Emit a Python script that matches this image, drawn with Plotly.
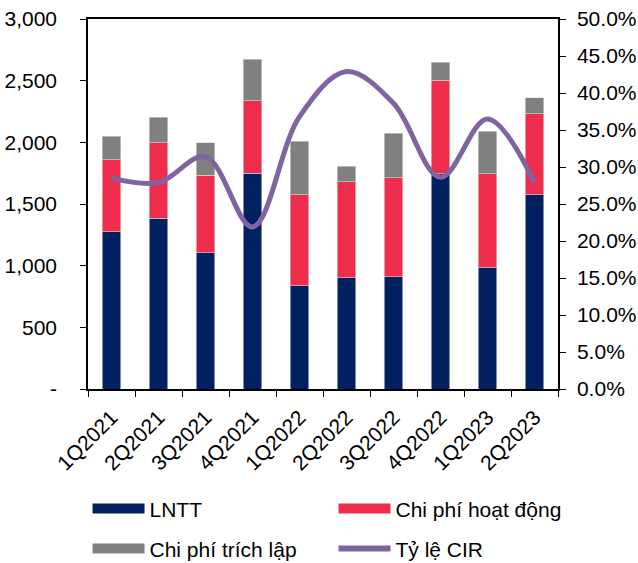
import plotly.graph_objects as go

quarters = ["1Q2021", "2Q2021", "3Q2021", "4Q2021", "1Q2022",
            "2Q2022", "3Q2022", "4Q2022", "1Q2023", "2Q2023"]
lntt = [1274, 1383, 1104, 1750, 836, 904, 912, 1745, 982, 1574]
chi_phi_hoat_dong = [584, 613, 628, 587, 738, 776, 800, 758, 763, 658]
chi_phi_trich_lap = [193, 206, 264, 338, 434, 127, 360, 148, 344, 130]
ty_le_cir = [0.285, 0.279, 0.314, 0.219, 0.368, 0.429, 0.386, 0.286, 0.365, 0.279]

left_ticks = [0, 500, 1000, 1500, 2000, 2500, 3000]
left_labels = ["-", "500", "1,000", "1,500", "2,000", "2,500", "3,000"]

NAVY = "#002060"
RED = "#EE2C4C"
GRAY = "#808080"
PURPLE = "#8064A2"
FONT = "Liberation Sans, Arial, sans-serif"

fig = go.Figure()
for name, vals, color in [("LNTT", lntt, NAVY),
                          ("Chi phí hoạt động", chi_phi_hoat_dong, RED),
                          ("Chi phí trích lập", chi_phi_trich_lap, GRAY)]:
    fig.add_trace(go.Bar(
        x=quarters, y=vals, name=name, marker_color=color,
        marker_line=dict(width=0.6, color="#d9d9d9"),
        showlegend=False, yaxis="y",
    ))

fig.add_trace(go.Scatter(
    x=quarters, y=ty_le_cir, name="Tỷ lệ CIR", yaxis="y2",
    mode="lines", line=dict(color=PURPLE, width=5, shape="spline", smoothing=1.0),
    showlegend=False,
))

# legend entries (wide swatches like the original)
legend_items = [("LNTT", NAVY, "legend"), ("Chi phí hoạt động", RED, "legend"),
                ("Chi phí trích lập", GRAY, "legend2"), ("Tỷ lệ CIR", PURPLE, "legend2")]
for name, color, lg in legend_items:
    fig.add_trace(go.Scatter(
        x=[None], y=[None], mode="lines", name=name, legend=lg,
        line=dict(color=color, width=10 if name != "Tỷ lệ CIR" else 6),
    ))

axis_common = dict(showline=True, linecolor="black", linewidth=1.5,
                   ticks="outside", ticklen=6, tickcolor="black",
                   showgrid=False, zeroline=False, automargin=False)

# entrywidth excludes the symbol area (itemwidth + gaps)
legend_common = dict(
    orientation="h", x=-0.001, xanchor="left",
    yanchor="middle", entrywidth=179, entrywidthmode="pixels", itemwidth=52,
    font=dict(size=21), traceorder="normal", bgcolor="rgba(0,0,0,0)",
)

fig.update_layout(
    width=638, height=563,
    margin=dict(l=88, r=80, t=19, b=174, autoexpand=False),
    paper_bgcolor="white", plot_bgcolor="white",
    font=dict(family=FONT, size=21, color="black"),
    barmode="stack", bargap=0.6,
    xaxis=dict(type="category", tickangle=-45, mirror=True,
               tickson="boundaries", tickfont=dict(size=21),
               ticklabelstandoff=6, **axis_common),
    yaxis=dict(range=[0, 3000], tickvals=left_ticks, ticktext=left_labels,
               tickfont=dict(size=21), ticklabelstandoff=19, **axis_common),
    yaxis2=dict(range=[0, 0.5], dtick=0.05, tickformat=".1%", overlaying="y",
                side="right", tickfont=dict(size=21), ticklabelstandoff=7,
                **axis_common),
    legend=dict(y=-0.324, **legend_common),
    legend2=dict(y=-0.432, **legend_common),
)

fig.write_html("out.html", config={"displayModeBar": False},
               post_script="document.body.style.margin='0';")
